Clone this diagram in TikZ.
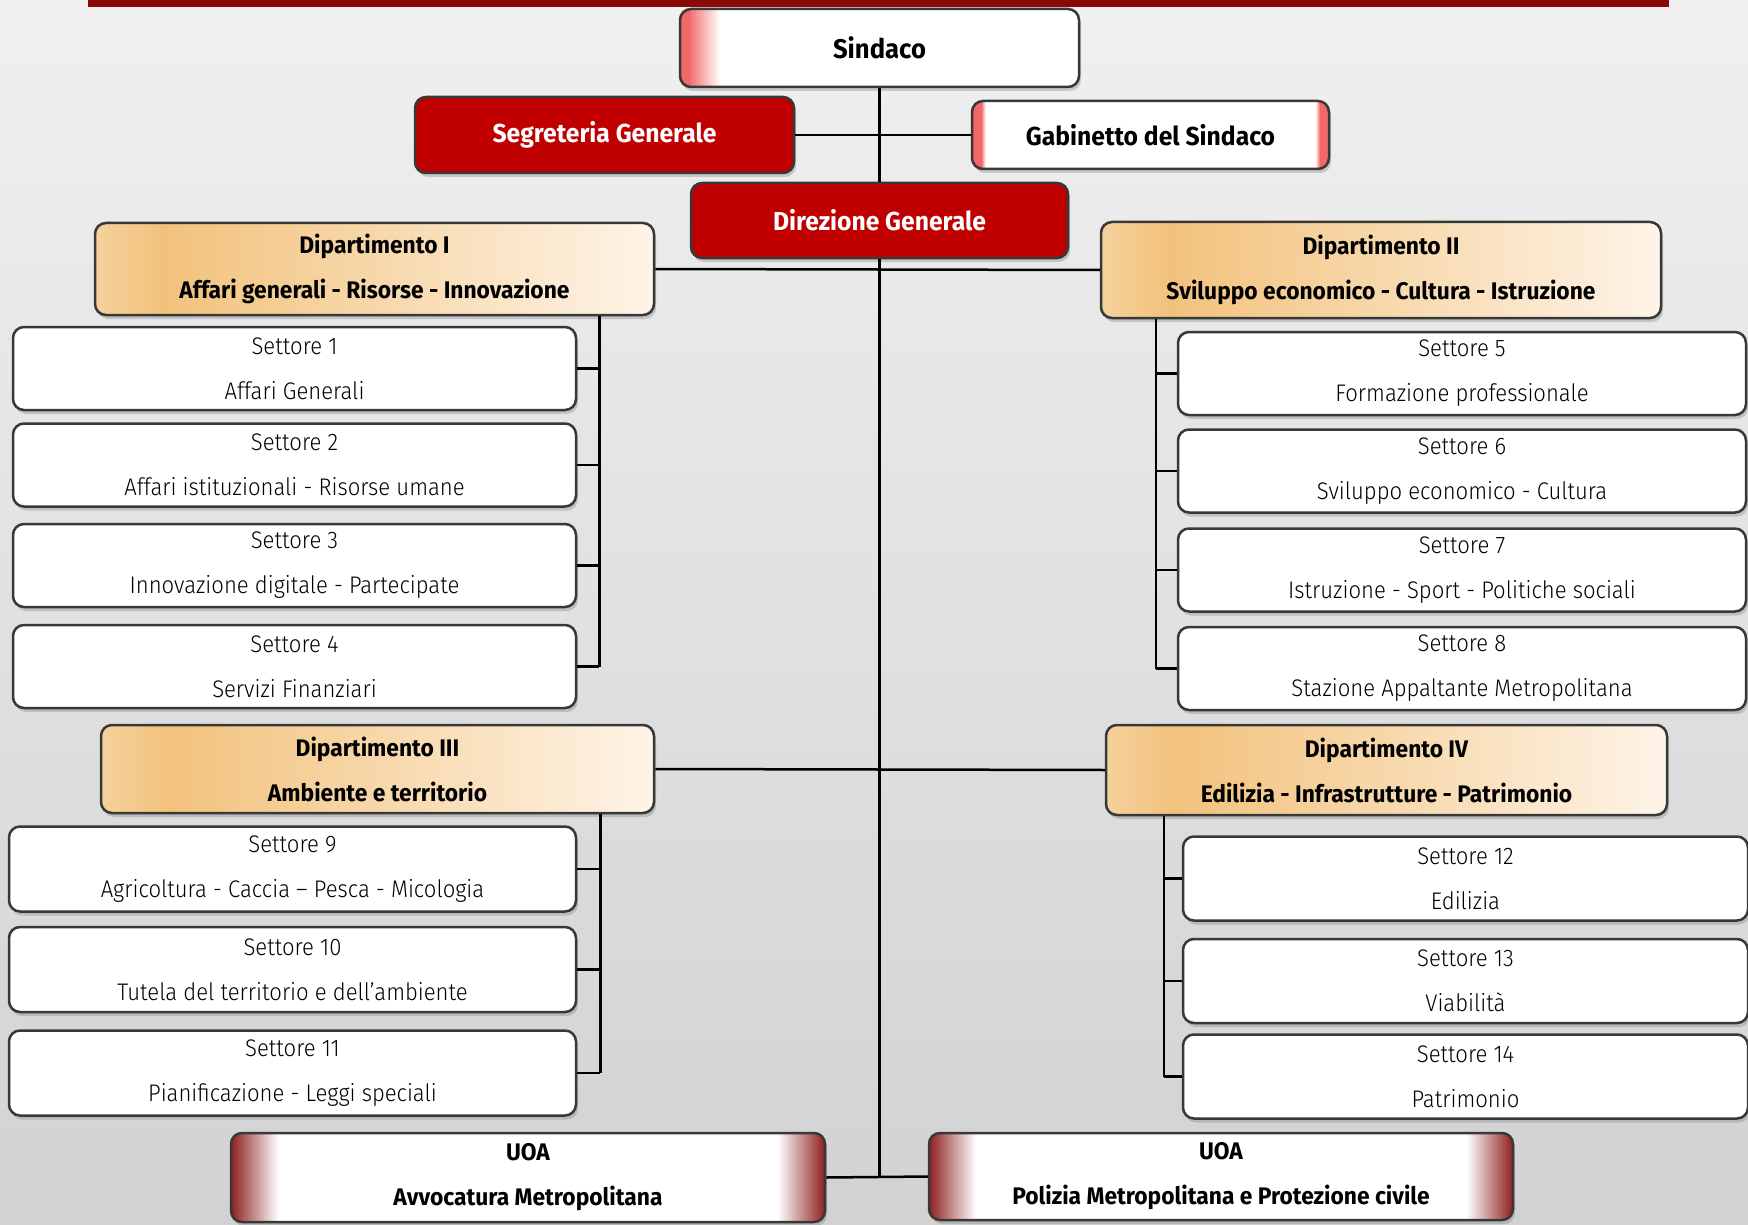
\documentclass[tikz,border=0pt]{standalone}
\usepackage{fontspec}
\setmainfont{Fira Sans Light}[FakeStretch=0.92, BoldFont={Fira Sans Bold}, BoldFeatures={FakeStretch=0.95}]
\usetikzlibrary{shadows}

\definecolor{barrosso}{HTML}{8A0A0A}
\definecolor{rossoscuro}{HTML}{C00000}
\definecolor{salmone}{HTML}{F26868}
\definecolor{vinaccia}{HTML}{8E1F1F}
\definecolor{sabbia}{HTML}{F2C27C}
\definecolor{crema}{HTML}{FEF4E8}
\definecolor{bordo}{HTML}{383838}
\definecolor{sfondoalto}{HTML}{F0F0F0}
\definecolor{sfondobasso}{HTML}{D2D2D2}

\pgfdeclarehorizontalshading{sindacoshade}{100bp}{color(0bp)=(salmone); color(26bp)=(salmone); color(30bp)=(white); color(100bp)=(white)}
\pgfdeclarehorizontalshading{gabinettoshade}{100bp}{color(0bp)=(salmone); color(26.3bp)=(salmone); color(26.9bp)=(white); color(73.1bp)=(white); color(73.7bp)=(salmone); color(100bp)=(salmone)}
\pgfdeclarehorizontalshading{uoashade}{100bp}{color(0bp)=(vinaccia); color(25bp)=(vinaccia); color(29bp)=(white); color(71bp)=(white); color(75bp)=(vinaccia); color(100bp)=(vinaccia)}
\pgfdeclarehorizontalshading{dipshade}{100bp}{color(0bp)=(sabbia!75!white); color(25bp)=(sabbia!75!white); color(31bp)=(sabbia); color(75bp)=(crema); color(100bp)=(crema)}

\tikzset{
  box/.style={draw=bordo, line width=2.5pt, rounded corners=11pt, align=center,
    inner sep=0pt, font=\fontsize{24}{45}\selectfont,
    drop shadow={shadow xshift=2pt, shadow yshift=-4pt, opacity=0.35}},
  capo/.style={box, font=\fontsize{26}{45}\selectfont\bfseries},
  staff/.style={box, fill=rossoscuro, text=white, font=\fontsize{26}{45}\selectfont\bfseries},
  dip/.style={box, shading=dipshade, font=\fontsize{24}{45}\selectfont\bfseries},
  uoa/.style={box, shading=uoashade, font=\fontsize{24}{45}\selectfont\bfseries},
  settore/.style={box, fill=white},
  linea/.style={line width=2.5pt, black}
}

\begin{document}
\begin{tikzpicture}[x=1pt,y=-1pt]
\useasboundingbox (0,0) rectangle (1748,1225);
\fill[top color=sfondoalto, bottom color=sfondobasso] (0,0) rectangle (1748,1225);
\fill[barrosso] (88,0) rectangle (1669,7);

% vertice
\node[capo, shading=sindacoshade, minimum width=399pt, minimum height=78pt, font=\fontsize{27}{45}\selectfont\bfseries] (sindaco) at (879.5,48) {Sindaco};
\node[staff, minimum width=379pt, minimum height=76pt] (segreteria) at (604.5,135) {Segreteria Generale};
\node[capo, shading=gabinettoshade, minimum width=357pt, minimum height=68pt] (gabinetto) at (1150.5,135) {Gabinetto del Sindaco};
\node[staff, minimum width=377pt, minimum height=75pt] (direzione) at (879.5,220.5) {Direzione Generale};

% dipartimenti
\node[dip, minimum width=559pt, minimum height=92pt] (dipI) at (374.5,269) {Dipartimento I\\Affari generali - Risorse - Innovazione};
\node[dip, minimum width=560pt, minimum height=96pt] (dipII) at (1381,270) {Dipartimento II\\Sviluppo economico - Cultura - Istruzione};
\node[dip, minimum width=553pt, minimum height=88pt] (dipIII) at (377.5,769) {Dipartimento III\\Ambiente e territorio};
\node[dip, minimum width=561pt, minimum height=90pt] (dipIV) at (1386.5,770) {Dipartimento IV\\Edilizia - Infrastrutture - Patrimonio};

% settori
\foreach \n/\y/\testo in {1/368.5/Affari Generali, 2/465/Affari istituzionali - Risorse umane,
    3/565.5/Innovazione digitale - Partecipate, 4/666.5/Servizi Finanziari}
  \node[settore, minimum width=563pt, minimum height=83pt] (s\n) at (294.5,\y) {Settore \n\\\testo};
\foreach \n/\y/\testo in {5/373.5/Formazione professionale, 6/471/Sviluppo economico - Cultura,
    7/570/Istruzione - Sport - Politiche sociali, 8/668.5/Stazione Appaltante Metropolitana}
  \node[settore, minimum width=568pt, minimum height=83pt] (s\n) at (1462,\y) {Settore \n\\\testo};
\foreach \n/\y/\testo in {9/869/Agricoltura - Caccia – Pesca - Micologia, 10/969.5/Tutela del territorio e dell’ambiente,
    11/1073/Pianificazione - Leggi speciali}
  \node[settore, minimum width=567pt, minimum height=85pt] (s\n) at (292.5,\y) {Settore \n\\\testo};
\foreach \n/\y/\testo in {12/878.5/Edilizia, 13/981/Viabilità, 14/1076.5/Patrimonio}
  \node[settore, minimum width=565pt, minimum height=84pt] (s\n) at (1465.5,\y) {Settore \n\\\testo};

% UOA
\node[uoa, minimum width=594pt, minimum height=89pt] (uoaA) at (528,1177.5) {UOA\\Avvocatura Metropolitana};
\node[uoa, minimum width=584pt, minimum height=87pt] (uoaP) at (1221,1176.5) {UOA\\Polizia Metropolitana e Protezione civile};

% collegamenti
\draw[linea] (sindaco.south) -- (direzione.north);
\draw[linea] (direzione.south) -- (direzione.south |- uoaA.east);
\draw[linea] (segreteria.east) -- (gabinetto.west);
\draw[linea] (dipI.east) -- (dipII.west);
\draw[linea] (dipIII.east) -- (dipIV.west);
\draw[linea] (uoaA.east) -- (uoaP.west);

\coordinate (bI) at ([xshift=22pt]s1.east);
\coordinate (bII) at ([xshift=-21pt]s5.west);
\coordinate (bIII) at ([xshift=23pt]s9.east);
\coordinate (bIV) at ([xshift=-18pt]s12.west);
\draw[linea] (bI |- dipI.south) -- (bI |- s4.east);
\draw[linea] (bII |- dipII.south) -- (bII |- s8.west);
\draw[linea] (bIII |- dipIII.south) -- (bIII |- s11.east);
\draw[linea] (bIV |- dipIV.south) -- (bIV |- s14.west);
\foreach \k in {1,...,4} \draw[linea] (s\k.east) -- (bI |- s\k.east);
\foreach \k in {5,...,8} \draw[linea] (s\k.west) -- (bII |- s\k.west);
\foreach \k in {9,10,11} \draw[linea] (s\k.east) -- (bIII |- s\k.east);
\foreach \k in {12,13,14} \draw[linea] (s\k.west) -- (bIV |- s\k.west);
\end{tikzpicture}
\end{document}
